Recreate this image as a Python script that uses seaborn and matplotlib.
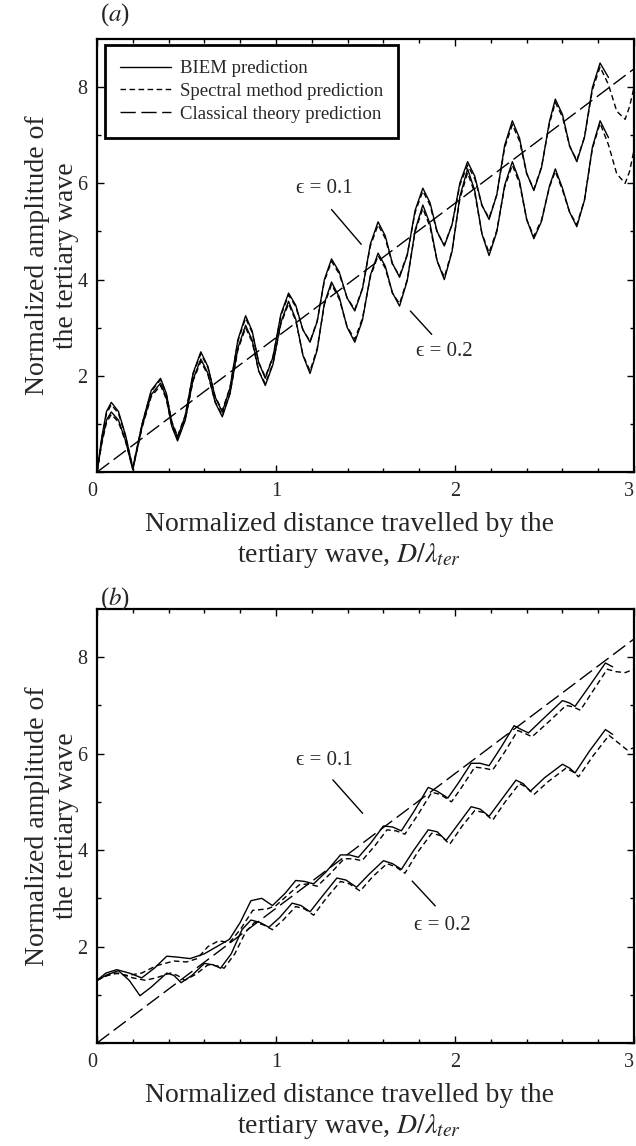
import matplotlib
matplotlib.use("Agg")
import matplotlib.pyplot as plt
import seaborn as sns
import numpy as np

# Panel (a): sample positions (peaks, troughs and flanks)
d_top = [0, 0.027, 0.053, 0.08, 0.12, 0.16, 0.20, 0.252, 0.303, 0.355, 0.387, 0.418,
         0.45, 0.493, 0.537, 0.58, 0.62, 0.66, 0.70, 0.743, 0.787, 0.83, 0.867, 0.903,
         0.94, 0.983, 1.027, 1.07, 1.11, 1.15, 1.19, 1.23, 1.27, 1.31, 1.353, 1.397,
         1.44, 1.483, 1.527, 1.57, 1.61, 1.65, 1.69, 1.733, 1.777, 1.82, 1.86, 1.90,
         1.94, 1.983, 2.027, 2.07, 2.11, 2.15, 2.19, 2.233, 2.277, 2.32, 2.36, 2.40,
         2.44, 2.483, 2.527, 2.56, 2.60, 2.64, 2.68, 2.723, 2.767, 2.81, 2.857, 2.903,
         2.95, 2.975, 3.0]

a_biem_01 = [0, 0.73, 1.26, 1.45, 1.26, 0.76, 0.08, 1.0, 1.7, 1.95, 1.64, 1.03,
             0.72, 1.17, 2.06, 2.5, 2.19, 1.56, 1.25, 1.75, 2.75, 3.25, 2.93, 2.28,
             1.95, 2.39, 3.28, 3.72, 3.47, 2.96, 2.7, 3.13, 4.0, 4.43, 4.16, 3.62,
             3.35, 3.81, 4.74, 5.2, 4.91, 4.34, 4.05, 4.51, 5.44, 5.9, 5.6, 5.0,
             4.7, 5.14, 6.01, 6.45, 6.15, 5.55, 5.25, 5.76, 6.79, 7.3, 6.94, 6.21,
             5.85, 6.33, 7.28, 7.75, 7.43, 6.78, 6.45, 6.96, 7.99, 8.5, 8.2]
a_spec_01 = [0, 0.7, 1.22, 1.4, 1.22, 0.74, 0.1, 1.0, 1.68, 1.92, 1.63, 1.05,
             0.75, 1.18, 2.04, 2.46, 2.17, 1.57, 1.28, 1.76, 2.72, 3.2, 2.9, 2.28,
             1.98, 2.4, 3.25, 3.68, 3.44, 2.96, 2.72, 3.14, 3.97, 4.38, 4.12, 3.62,
             3.38, 3.82, 4.7, 5.14, 4.86, 4.32, 4.08, 4.52, 5.4, 5.84, 5.55, 4.98,
             4.72, 5.14, 5.97, 6.38, 6.1, 5.54, 5.28, 5.76, 6.74, 7.22, 6.88, 6.2,
             5.88, 6.34, 7.24, 7.68, 7.38, 6.77, 6.48, 6.96, 7.94, 8.42, 8.05, 7.5,
             7.33, 7.6, 8.0]
a_biem_02 = [0, 0.63, 1.08, 1.25, 1.08, 0.65, 0.05, 0.95, 1.61, 1.85, 1.55, 0.95,
             0.65, 1.08, 1.93, 2.35, 2.05, 1.45, 1.15, 1.63, 2.58, 3.05, 2.74, 2.11,
             1.8, 2.24, 3.11, 3.55, 3.18, 2.43, 2.05, 2.54, 3.51, 3.95, 3.64, 3.01,
             2.7, 3.16, 4.09, 4.55, 4.28, 3.73, 3.45, 3.98, 5.03, 5.55, 5.16, 4.39,
             4.0, 4.58, 5.73, 6.3, 5.85, 4.95, 4.5, 4.99, 5.96, 6.45, 6.05, 5.25,
             4.85, 5.21, 5.94, 6.3, 5.9, 5.4, 5.1, 5.65, 6.75, 7.3, 6.95]
a_spec_02 = [0, 0.6, 1.03, 1.2, 1.04, 0.63, 0.07, 0.93, 1.57, 1.8, 1.52, 0.96,
             0.68, 1.1, 1.9, 2.3, 2.02, 1.46, 1.18, 1.64, 2.54, 3.0, 2.7, 2.1,
             1.84, 2.26, 3.08, 3.5, 3.15, 2.44, 2.1, 2.57, 3.48, 3.9, 3.6, 3.02,
             2.76, 3.2, 4.06, 4.5, 4.24, 3.72, 3.5, 4.0, 5.0, 5.48, 5.1, 4.38,
             4.05, 4.6, 5.68, 6.22, 5.8, 4.96, 4.56, 5.02, 5.92, 6.38, 6.0, 5.25,
             4.9, 5.24, 5.92, 6.25, 5.86, 5.4, 5.14, 5.66, 6.72, 7.25, 6.8, 6.2,
             6.0, 6.25, 6.7]

# Panel (b)
d_biem_b01 = [0, 0.05, 0.11, 0.18, 0.25, 0.32, 0.39, 0.45, 0.52, 0.6, 0.67, 0.74, 0.8,
              0.86, 0.92, 0.98, 1.05, 1.11, 1.16, 1.21, 1.28, 1.36, 1.41, 1.46, 1.53,
              1.6, 1.65, 1.7, 1.77, 1.85, 1.9, 1.96, 2.02, 2.09, 2.14, 2.19, 2.26,
              2.33, 2.37, 2.41, 2.5, 2.6, 2.64, 2.67, 2.75, 2.84, 2.88]
a_biem_b01 = [1.3, 1.45, 1.52, 1.45, 1.35, 1.55, 1.8, 1.78, 1.75, 1.85, 2.0, 2.15, 2.5,
              2.95, 3.0, 2.85, 3.1, 3.37, 3.35, 3.3, 3.55, 3.9, 3.9, 3.85, 4.15,
              4.5, 4.48, 4.4, 4.8, 5.3, 5.22, 5.08, 5.4, 5.8, 5.8, 5.75, 6.15,
              6.58, 6.5, 6.43, 6.75, 7.1, 7.05, 6.98, 7.4, 7.88, 7.8]
d_spec_b01 = [0, 0.05, 0.1, 0.17, 0.25, 0.33, 0.43, 0.5, 0.56, 0.62, 0.68, 0.74, 0.8,
              0.87, 0.95, 1.0, 1.06, 1.13, 1.18, 1.23, 1.3, 1.38, 1.43, 1.48, 1.55,
              1.62, 1.67, 1.72, 1.79, 1.87, 1.92, 1.98, 2.04, 2.11, 2.16, 2.21, 2.28,
              2.35, 2.39, 2.43, 2.52, 2.62, 2.66, 2.7, 2.77, 2.85, 2.9, 2.95, 3.0]
a_spec_b01 = [1.3, 1.4, 1.45, 1.4, 1.45, 1.6, 1.7, 1.68, 1.75, 2.0, 2.12, 2.08, 2.35,
              2.75, 2.78, 2.85, 3.05, 3.28, 3.3, 3.25, 3.5, 3.82, 3.82, 3.78, 4.08,
              4.42, 4.4, 4.33, 4.72, 5.2, 5.15, 5.0, 5.32, 5.72, 5.7, 5.66, 6.05,
              6.48, 6.42, 6.35, 6.65, 7.0, 6.97, 6.9, 7.3, 7.75, 7.7, 7.68, 7.75]
d_biem_b02 = [0, 0.06, 0.12, 0.18, 0.24, 0.3, 0.39, 0.43, 0.47, 0.53, 0.6, 0.65, 0.69,
              0.75, 0.81, 0.86, 0.91, 0.96, 1.02, 1.09, 1.14, 1.19, 1.26, 1.34, 1.39,
              1.45, 1.52, 1.6, 1.65, 1.70, 1.77, 1.85, 1.90, 1.95, 2.02, 2.09, 2.14,
              2.19, 2.26, 2.34, 2.38, 2.42, 2.5, 2.6, 2.64, 2.67, 2.75, 2.84, 2.88]
a_biem_b02 = [1.3, 1.42, 1.5, 1.3, 0.98, 1.15, 1.45, 1.4, 1.25, 1.4, 1.65, 1.62, 1.55,
              1.85, 2.35, 2.55, 2.5, 2.4, 2.6, 2.9, 2.85, 2.72, 3.05, 3.42, 3.38,
              3.23, 3.5, 3.78, 3.72, 3.6, 4.0, 4.42, 4.38, 4.2, 4.55, 4.9, 4.85,
              4.7, 5.05, 5.45, 5.38, 5.22, 5.5, 5.78, 5.7, 5.6, 6.05, 6.5, 6.4]
d_spec_b02 = [0, 0.06, 0.12, 0.2, 0.27, 0.33, 0.41, 0.45, 0.49, 0.55, 0.62, 0.67, 0.71,
              0.77, 0.83, 0.88, 0.93, 0.98, 1.04, 1.11, 1.16, 1.21, 1.28, 1.36, 1.41,
              1.47, 1.54, 1.62, 1.67, 1.72, 1.79, 1.87, 1.92, 1.97, 2.04, 2.11, 2.16,
              2.21, 2.28, 2.36, 2.4, 2.44, 2.52, 2.62, 2.66, 2.69, 2.77, 2.86, 2.92,
              2.96, 3.0]
a_spec_b02 = [1.3, 1.4, 1.45, 1.35, 1.3, 1.35, 1.45, 1.4, 1.3, 1.42, 1.62, 1.6, 1.55,
              1.85, 2.3, 2.5, 2.45, 2.35, 2.55, 2.83, 2.78, 2.65, 3.0, 3.35, 3.3,
              3.15, 3.45, 3.72, 3.65, 3.52, 3.95, 4.35, 4.3, 4.12, 4.5, 4.82, 4.78,
              4.62, 5.0, 5.38, 5.3, 5.15, 5.42, 5.7, 5.62, 5.52, 5.95, 6.38, 6.2,
              6.08, 6.12]

# Classical theory: straight line
d_classic = [0, 3.0]
a_classic = [0, 8.38]

sns.set_style("ticks")
plt.rcParams["font.family"] = ["Liberation Serif", "DejaVu Serif"]
plt.rcParams["mathtext.fontset"] = "stix"

fig = plt.figure(figsize=(6.36, 11.46), dpi=100)
ax1 = fig.add_axes([0.1525, 0.588, 0.8445, 0.378])
ax2 = fig.add_axes([0.1525, 0.0899, 0.8445, 0.3787])

solid = dict(color="black", lw=1.0)
short_dash = dict(color="black", lw=1.0, linestyle=(0, (4, 2.5)))
long_dash = dict(color="black", lw=1.0, linestyle=(0, (11, 4)))

n1 = len(a_biem_01)
n2 = len(a_biem_02)
sns.lineplot(x=d_top[:n1], y=a_biem_01, ax=ax1, label="BIEM prediction", **solid)
sns.lineplot(x=d_top, y=a_spec_01, ax=ax1, label="Spectral method prediction", **short_dash)
sns.lineplot(x=d_classic, y=a_classic, ax=ax1, label="Classical theory prediction", **long_dash)
sns.lineplot(x=d_top[:n2], y=a_biem_02, ax=ax1, **solid)
sns.lineplot(x=d_top, y=a_spec_02, ax=ax1, **short_dash)

sns.lineplot(x=d_biem_b01, y=a_biem_b01, ax=ax2, **solid)
sns.lineplot(x=d_spec_b01, y=a_spec_b01, ax=ax2, **short_dash)
sns.lineplot(x=d_biem_b02, y=a_biem_b02, ax=ax2, **solid)
sns.lineplot(x=d_spec_b02, y=a_spec_b02, ax=ax2, **short_dash)
sns.lineplot(x=d_classic, y=a_classic, ax=ax2, **long_dash)

for ax in (ax1, ax2):
    ax.set_xlim(0, 3)
    ax.set_ylim(0, 9)
    ax.set_xticks([0, 1, 2, 3])
    ax.set_xticks(np.arange(0, 3.01, 0.2), minor=True)
    ax.set_yticks([0, 2, 4, 6, 8])
    ax.set_yticklabels(["", "2", "4", "6", "8"])
    ax.set_yticks([1, 3, 5, 7], minor=True)
    ax.tick_params(which="both", direction="in", top=True, right=True,
                   labelsize=14.5, width=1.0, color="black")
    ax.tick_params(which="major", length=5, pad=7)
    ax.tick_params(which="minor", length=3)
    # keep the last x label inside the figure edge
    xlabels = ax.get_xticklabels()
    xlabels[0].set_horizontalalignment("right")
    xlabels[-1].set_horizontalalignment("right")
    for s in ax.spines.values():
        s.set_linewidth(1.6)
        s.set_color("black")
    ax.set_xlabel("Normalized distance travelled by the\ntertiary wave, $D/\\lambda_{ter}$",
                  fontsize=20, x=0.47, labelpad=8, linespacing=1.2)
    ax.set_ylabel("Normalized amplitude of\nthe tertiary wave", fontsize=20,
                  labelpad=-1, linespacing=1.2)

leg = ax1.legend(loc="upper left", bbox_to_anchor=(0.015, 0.986), borderaxespad=0,
                 fancybox=False, framealpha=1, edgecolor="black", fontsize=13.5,
                 handlelength=2.7, handletextpad=0.5, borderpad=0.8, labelspacing=0.3)
leg.get_frame().set_linewidth(2.0)
if ax2.get_legend() is not None:
    ax2.get_legend().remove()

# epsilon labels with pointer lines
eps = "\u03f5"
lab_kw = dict(fontsize=15, ha="center", va="center")
line_kw = dict(arrowstyle="-", lw=1.0, color="black")
ax1.text(1.27, 5.9, eps + " = 0.1", **lab_kw)
ax1.annotate("", xy=(1.486, 4.69), xytext=(1.30, 5.5), arrowprops=line_kw)
ax1.text(1.94, 2.5, eps + " = 0.2", **lab_kw)
ax1.annotate("", xy=(1.88, 2.82), xytext=(1.74, 3.39), arrowprops=line_kw)
ax2.text(1.27, 5.86, eps + " = 0.1", **lab_kw)
ax2.annotate("", xy=(1.494, 4.72), xytext=(1.307, 5.5), arrowprops=line_kw)
ax2.text(1.93, 2.44, eps + " = 0.2", **lab_kw)
ax2.annotate("", xy=(1.90, 2.8), xytext=(1.75, 3.4), arrowprops=line_kw)

fig.text(0.157, 0.987, "($\\it{a}$)", fontsize=18, ha="left", va="center")
fig.text(0.157, 0.478, "($\\it{b}$)", fontsize=18, ha="left", va="center")

fig.savefig("out.png", dpi=100)
